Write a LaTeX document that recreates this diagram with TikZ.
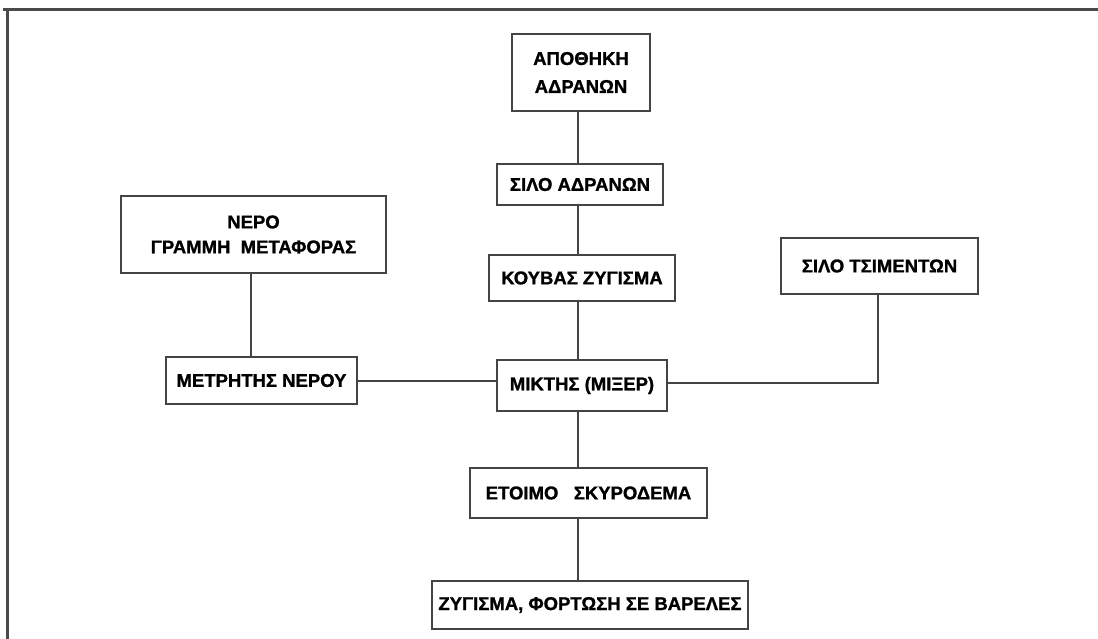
\documentclass[tikz,border=0pt]{standalone}
\usepackage{fontspec}
\setmainfont{Liberation Sans}
\newfontfamily\boxfont[FakeBold=1.2]{Liberation Sans Bold}
\definecolor{boxgray}{HTML}{444444}
\definecolor{framegray}{HTML}{4A4A4A}
\begin{document}
\begin{tikzpicture}[x=1pt,y=-1pt,
  box/.style={draw=boxgray, line width=1.6pt, fill=white, inner sep=0pt, align=center,
    font=\boxfont\fontsize{18.5}{28}\selectfont},
  link/.style={draw=boxgray, line width=1.6pt}]
\useasboundingbox[fill=white] (0,0) rectangle (1098,639);
% frame
\draw[framegray, line width=3pt] (3,10) -- (1098,10);
\draw[framegray, line width=3pt] (7,10) -- (7,639);
% nodes
\node[box, minimum width=138, minimum height=77] (apo) at (581,72.5) {ΑΠΟΘΗΚΗ\\ΑΔΡΑΝΩΝ};
\node[box, minimum width=166, minimum height=41] (silo) at (580,184.5) {ΣΙΛΟ ΑΔΡΑΝΩΝ};
\node[box, minimum width=265, minimum height=77, font=\boxfont\fontsize{18.5}{25}\selectfont] (nero) at (253.5,234.5) {ΝΕΡΟ\\ΓΡΑΜΜΗ\ \ ΜΕΤΑΦΟΡΑΣ};
\node[box, minimum width=186, minimum height=46] (kouv) at (582,278) {ΚΟΥΒΑΣ ΖΥΓΙΣΜΑ};
\node[box, minimum width=197, minimum height=56] (tsim) at (879.5,266) {ΣΙΛΟ ΤΣΙΜΕΝΤΩΝ};
\node[box, minimum width=191, minimum height=47] (metr) at (261.5,380.5) {ΜΕΤΡΗΤΗΣ ΝΕΡΟΥ};
\node[box, minimum width=170, minimum height=51] (mikt) at (582,385.5) {ΜΙΚΤΗΣ (ΜΙΞΕΡ)};
\node[box, minimum width=237, minimum height=50] (etoi) at (588.5,493) {ΕΤΟΙΜΟ\ \ \ ΣΚΥΡΟΔΕΜΑ};
\node[box, minimum width=316, minimum height=48] (zyg) at (590,605) {ΖΥΓΙΣΜΑ, ΦΟΡΤΩΣΗ ΣΕ ΒΑΡΕΛΕΣ};
% helper coordinates
\coordinate (v) at (578,0);
\coordinate (w) at (251,0);
\coordinate (h) at (0,381);
\coordinate (c) at (878,383);
% connectors
\draw[link] (apo.south -| v) -- (silo.north -| v);
\draw[link] (silo.south -| v) -- (kouv.north -| v);
\draw[link] (kouv.south -| v) -- (mikt.north -| v);
\draw[link] (mikt.south -| v) -- (etoi.north -| v);
\draw[link] (etoi.south -| v) -- (zyg.north -| v);
\draw[link] (nero.south -| w) -- (metr.north -| w);
\draw[link] (metr.east |- h) -- (mikt.west |- h);
\draw[link] (tsim.south -| c) -- (c) -- (mikt.east |- c);
\end{tikzpicture}
\end{document}
